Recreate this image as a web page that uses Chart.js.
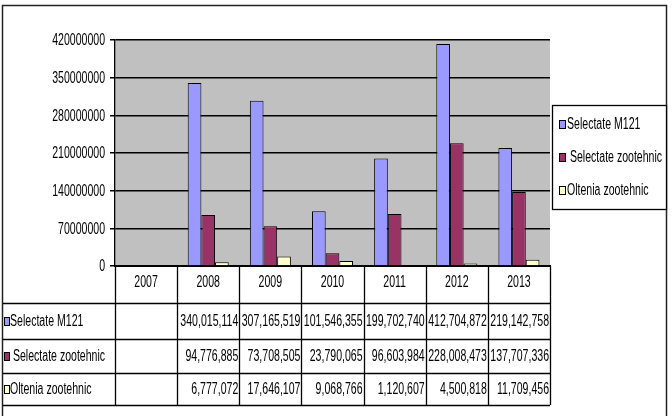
<!DOCTYPE html>
<html>
<head>
<meta charset="utf-8">
<script src="https://cdn.jsdelivr.net/npm/chart.js@4"></script>
<style>
  html, body { margin: 0; padding: 0; background: #fff; }
  #wrap { width: 672px; height: 416px; }
</style>
</head>
<body>
<div id="wrap"><canvas id="chart" width="672" height="416"></canvas></div>
<script>
// Data
const years = ['2007', '2008', '2009', '2010', '2011', '2012', '2013'];
const selectateM121 = [null, 340015114, 307165519, 101546355, 199702740, 412704872, 219142758];
const selectateZootehnic = [null, 94776885, 73708505, 23790065, 96603984, 228008473, 137707336];
const olteniaZootehnic = [null, 6777072, 17646107, 9068766, 1120607, 4500818, 11709456];
const seriesNames = ['Selectate M121', ' Selectate zootehnic', 'Oltenia zootehnic'];
const yMin = 0;
const yMax = 420000000;
const yStep = 70000000;

const FONT = "'Liberation Sans', Arial, sans-serif";
const FONT_SIZE = 16;
const colors = ['#9999FF', '#993366', '#FFFFCC'];
const SQUEEZE = 0.66; // no narrow face installed, so squeeze text horizontally

// write text in a narrow look
function narrowText(c, text, x, y, align) {
    c.save();
    c.translate(x, y);
    c.scale(SQUEEZE, 1);
    c.textAlign = align;
    c.fillText(text, 0, 0);
    c.restore();
}

// Gray plot background + outer frame
const backdrop = {
    id: 'backdrop',
    beforeDraw(chart) {
        const c = chart.ctx;
        const a = chart.chartArea;
        c.save();
        c.fillStyle = '#fff';
        c.fillRect(0, 0, chart.width, chart.height);
        c.fillStyle = '#C0C0C0';
        c.fillRect(a.left, a.top, a.right - a.left, a.bottom - a.top);
        c.restore();
    },
    afterDraw(chart) {
        const c = chart.ctx;
        c.save();
        c.strokeStyle = '#222';
        c.lineWidth = 1.5;
        c.beginPath();
        c.moveTo(2.5, 420);
        c.lineTo(2.5, 5.5);
        c.lineTo(666.5, 5.5);
        c.lineTo(666.5, 420);
        c.stroke();
        c.restore();
    }
};

// Axis labels, placed with the chart's own scales
const axisLabels = {
    id: 'axisLabels',
    afterDraw(chart) {
        const c = chart.ctx;
        const ys = chart.scales.y;
        const xs = chart.scales.x;
        c.save();
        c.font = FONT_SIZE + 'px ' + FONT;
        c.fillStyle = '#000';
        c.textBaseline = 'middle';
        ys.ticks.forEach(t => {
            narrowText(c, String(t.value), ys.right - 10, ys.getPixelForValue(t.value) + 1, 'right');
        });
        xs.ticks.forEach((t, i) => {
            narrowText(c, xs.getLabelForValue(t.value), xs.getPixelForTick(i), xs.top + 17, 'center');
        });
        c.restore();
    }
};

// Data table under the axis, built from the same arrays
const dataTable = {
    id: 'dataTable',
    afterDraw(chart) {
        const c = chart.ctx;
        const a = chart.chartArea;
        const x = chart.scales.x;
        const n = years.length;
        const cw = (a.right - a.left) / n;
        const rows = [a.bottom, 303, 339, 373, 405];
        c.save();
        c.strokeStyle = '#000';
        c.lineWidth = 1.3;
        // vertical lines
        for (let i = 0; i <= n; i++) {
            const px = Math.round(x.getPixelForValue(i) - cw / 2) + 0.5;
            c.beginPath();
            c.moveTo(px, a.bottom);
            c.lineTo(px, rows[4]);
            c.stroke();
        }
        // horizontal lines
        for (let r = 1; r < rows.length; r++) {
            c.beginPath();
            c.moveTo(3, rows[r] + 0.5);
            c.lineTo(a.right, rows[r] + 0.5);
            c.stroke();
        }
        const series = [selectateM121, selectateZootehnic, olteniaZootehnic];
        c.font = FONT_SIZE + 'px ' + FONT;
        c.textBaseline = 'middle';
        series.forEach((vals, s) => {
            const cy = (rows[s + 1] + rows[s + 2]) / 2 + 1;
            // key marker
            c.fillStyle = colors[s];
            c.fillRect(4, cy - 4, 5, 8);
            c.strokeStyle = '#000';
            c.lineWidth = 1;
            c.strokeRect(4.5, cy - 4.5, 5, 8);
            c.fillStyle = '#000';
            narrowText(c, seriesNames[s], 10, cy, 'left');
            vals.forEach((v, i) => {
                if (v == null) return;
                const right = x.getPixelForValue(i) + cw / 2 - 1;
                narrowText(c, v.toLocaleString('en-US'), right, cy, 'right');
            });
        });
        c.restore();
    }
};

// Boxed legend on the right
const boxLegend = {
    id: 'boxLegend',
    afterDraw(chart) {
        const c = chart.ctx;
        c.save();
        c.fillStyle = '#fff';
        c.fillRect(552, 105, 114, 105);
        c.strokeStyle = '#000';
        c.lineWidth = 1.3;
        c.strokeRect(552.5, 105.5, 114, 104);
        c.font = FONT_SIZE + 'px ' + FONT;
        c.textBaseline = 'middle';
        chart.data.datasets.forEach((ds, i) => {
            const cy = 125 + i * 33;
            c.fillStyle = ds.backgroundColor;
            c.fillRect(559, cy - 4, 6, 8);
            c.lineWidth = 1;
            c.strokeRect(559.5, cy - 4.5, 6, 8);
            c.fillStyle = '#000';
            narrowText(c, ds.label, 567, cy, 'left');
        });
        c.restore();
    }
};

const ctx = document.getElementById('chart').getContext('2d');
new Chart(ctx, {
    type: 'bar',
    data: {
        labels: years,
        datasets: [
            { label: seriesNames[0], data: selectateM121, backgroundColor: colors[0] },
            { label: seriesNames[1], data: selectateZootehnic, backgroundColor: colors[1] },
            { label: seriesNames[2], data: olteniaZootehnic, backgroundColor: colors[2] }
        ].map(d => Object.assign(d, {
            borderColor: '#000',
            borderWidth: 1,
            categoryPercentage: 0.66,
            barPercentage: 1
        }))
    },
    options: {
        responsive: false,
        animation: false,
        layout: { padding: { top: 40, right: 122, bottom: 113, left: 0 } },
        plugins: {
            legend: { display: false },
            tooltip: { enabled: false }
        },
        scales: {
            x: {
                grid: { display: false, drawTicks: false },
                border: { display: true, color: '#000', width: 2 },
                ticks: { display: false },
                afterFit(scale) { scale.height = 37; }
            },
            y: {
                min: yMin,
                max: yMax,
                grid: { color: '#000', lineWidth: 1.5, tickLength: 5 },
                border: { display: true, color: '#000', width: 1.3 },
                ticks: {
                    display: false,
                    stepSize: yStep
                },
                afterFit(scale) { scale.width = 115; }
            }
        }
    },
    plugins: [backdrop, axisLabels, dataTable, boxLegend]
});
</script>
</body>
</html>
